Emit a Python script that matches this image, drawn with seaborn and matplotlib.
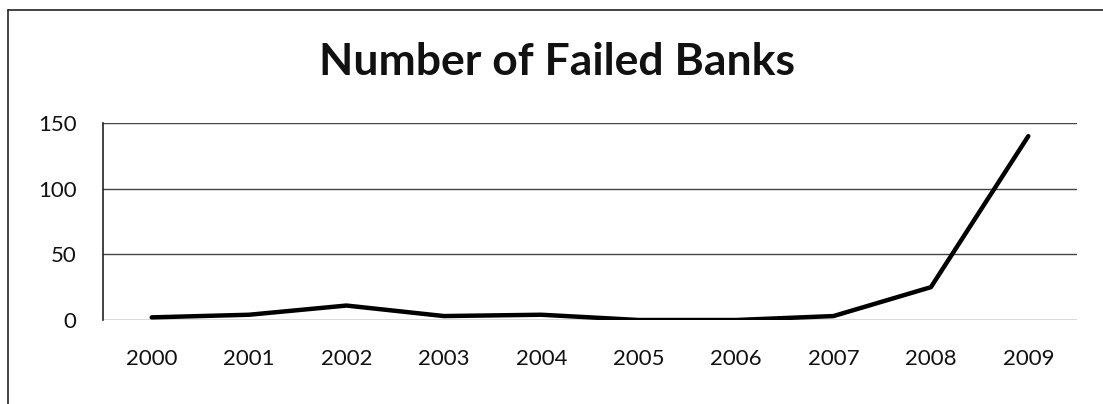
import matplotlib
matplotlib.use("Agg")
import matplotlib.pyplot as plt
import pandas as pd
import seaborn as sns

years = ["2000", "2001", "2002", "2003", "2004", "2005", "2006", "2007", "2008", "2009"]
failed_banks = [2, 4, 11, 3, 4, 0, 0, 3, 25, 140]

sns.set_theme(style="white")
plt.rcParams["font.family"] = ["Lato", "DejaVu Sans"]

df = pd.DataFrame({"year": years, "banks": failed_banks})
df["pos"] = range(len(df))

fig = plt.figure(figsize=(11.03, 4.04), dpi=100)
ax = fig.add_axes([103 / 1103, 1 - 320 / 404, (1077 - 103) / 1103, (320 - 123) / 404])

sns.lineplot(data=df, x="pos", y="banks", color="black", linewidth=3.2, ax=ax)

ax.set_xlim(-0.5, len(years) - 0.5)
ax.set_ylim(0, 150)
ax.set_yticks([0, 50, 100, 150])
ax.set_xticks(df["pos"])
ax.set_xticklabels(years)
ax.tick_params(axis="x", length=0, pad=21, labelsize=16, colors="#111111")
ax.tick_params(axis="y", length=0, pad=19, labelsize=16, colors="#111111")
ax.set_xlabel("")
ax.set_ylabel("")
ax.grid(axis="y", color="#444444", linewidth=1.0)
ax.set_axisbelow(True)
for side in ["top", "right", "bottom"]:
    ax.spines[side].set_visible(False)
ax.spines["left"].set_color("#222222")
ax.spines["left"].set_linewidth(1.2)

fig.text(557 / 1103, 1 - 75 / 404, "Number of Failed Banks", ha="center", va="baseline",
         fontsize=32, fontweight="bold", color="#111111")

# outer chart frame (left and top edges visible in the scan)
fig.add_artist(plt.Line2D([8 / 1103, 8 / 1103], [0, 1 - 10 / 404], transform=fig.transFigure,
                          color="#222222", linewidth=1.2))
fig.add_artist(plt.Line2D([8 / 1103, 1], [1 - 10 / 404, 1 - 10 / 404], transform=fig.transFigure,
                          color="#222222", linewidth=1.2))

fig.savefig("out.png", dpi=100)
